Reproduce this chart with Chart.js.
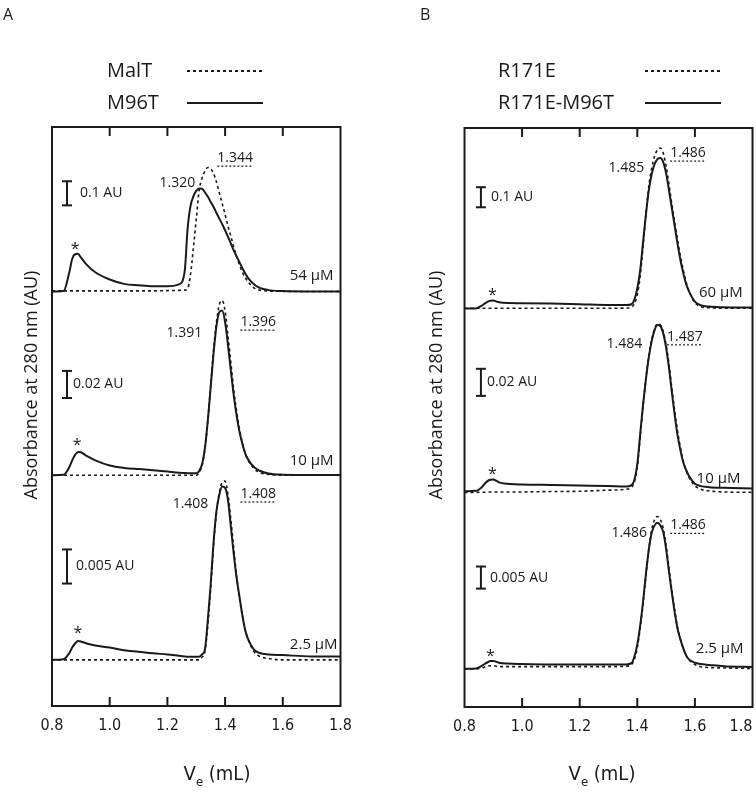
<!DOCTYPE html>
<html>
<head>
<meta charset="utf-8">
<script src="https://cdn.jsdelivr.net/npm/chart.js@4.4.1/dist/chart.umd.min.js"></script>
<style>
  html, body { margin: 0; padding: 0; background: #fff; }
  #wrap { position: relative; width: 756px; height: 793px; }
  .panel { position: absolute; top: 0; width: 378px; height: 793px; }
</style>
</head>
<body>
<div id="wrap">
  <div class="panel" style="left:0"><canvas id="chartA"></canvas></div>
  <div class="panel" style="left:378px"><canvas id="chartB"></canvas></div>
</div>
<script>
// elution volume (mL), panel A
const volumeA = [0.80, 0.84, 0.86, 0.87, 0.88, 0.89, 0.90, 0.92, 0.95,
  1.00, 1.05, 1.10, 1.15, 1.20, 1.24, 1.26, 1.27, 1.28, 1.29, 1.30,
  1.31, 1.32, 1.33, 1.34, 1.35, 1.36, 1.37, 1.38, 1.39, 1.40, 1.41, 1.42, 1.43, 1.44, 1.45, 1.46, 1.47, 1.48,
  1.50, 1.52, 1.55, 1.60, 1.70, 1.80];

// absorbance (AU), panel A
const malT54 = [0.003, 0.003, 0.003, 0.003, 0.003, 0.003, 0.003, 0.003, 0.003,
  0.003, 0.003, 0.003, 0.003, 0.004, 0.005, 0.006, 0.012, 0.07, 0.18, 0.30,
  0.42, 0.47, 0.50, 0.515, 0.51, 0.49, 0.455, 0.41, 0.365, 0.32, 0.272, 0.23, 0.186, 0.145, 0.11, 0.08, 0.058, 0.04,
  0.015, 0.006, 0.002, 0.001, 0, 0];
const m96t54 = [0, 0.002, 0.08, 0.135, 0.155, 0.157, 0.142, 0.112, 0.080,
  0.050, 0.032, 0.026, 0.022, 0.022, 0.030, 0.085, 0.26, 0.355, 0.395, 0.418,
  0.428, 0.427, 0.412, 0.395, 0.372, 0.351, 0.327, 0.303, 0.280, 0.254, 0.228, 0.199, 0.171, 0.146, 0.121, 0.097, 0.075, 0.056,
  0.030, 0.015, 0.006, 0.002, 0, 0];
const malT10 = [0, 0, 0, 0, 0, 0, 0, 0, 0,
  0, 0, 0, 0, 0, 0, 0, 0, 0, 0, 0,
  0.002, 0.007, 0.019, 0.04, 0.066, 0.092, 0.113, 0.126, 0.129, 0.121, 0.103, 0.083, 0.063, 0.047, 0.034, 0.024, 0.016, 0.011,
  0.005, 0.002, 0.0006, 0, 0, 0];
const m96t10 = [0, 0.0003, 0.006, 0.011, 0.015, 0.0172, 0.017, 0.0142, 0.011,
  0.0072, 0.0054, 0.0045, 0.0037, 0.0027, 0.0018, 0.0016, 0.0015, 0.0015, 0.0015, 0.0015,
  0.003, 0.008, 0.02, 0.04, 0.065, 0.09, 0.110, 0.1205, 0.1215, 0.113, 0.096, 0.077, 0.059, 0.044, 0.032, 0.023, 0.016, 0.0115,
  0.006, 0.0033, 0.0012, 0.0004, 0.0002, 0.0002];
const malT25 = [0, 0, 0, 0, 0, 0, 0, 0, 0,
  0, 0, 0, 0, 0, 0, 0, 0, 0, 0, 0,
  0, 0.0004, 0.0012, 0.005, 0.0105, 0.0168, 0.0215, 0.0245, 0.026, 0.0262, 0.0242, 0.0205, 0.0163, 0.0122, 0.009, 0.0064, 0.0044, 0.003,
  0.0012, 0.0005, 0.0002, 0, 0, 0];
const m96t25 = [0, 0.0001, 0.001, 0.0018, 0.0024, 0.00275, 0.0027, 0.0024, 0.0021,
  0.0018, 0.0014, 0.0012, 0.00095, 0.0008, 0.0006, 0.0005, 0.00045, 0.00045, 0.00045, 0.00045,
  0.00045, 0.0008, 0.0015, 0.0058, 0.011, 0.0172, 0.0218, 0.0242, 0.0254, 0.0252, 0.0234, 0.0195, 0.0155, 0.012, 0.0092, 0.0065, 0.0043, 0.003,
  0.0015, 0.001, 0.0008, 0.0007, 0.0005, 0.0005];

// elution volume (mL), panel B
const volumeB = [0.80, 0.84, 0.86, 0.87, 0.88, 0.89, 0.90, 0.91, 0.92, 0.95,
  1.00, 1.10, 1.20, 1.30, 1.36, 1.38,
  1.39, 1.40, 1.41, 1.42, 1.43, 1.44, 1.45, 1.46, 1.47, 1.48, 1.49, 1.50, 1.51, 1.52, 1.53, 1.54, 1.55, 1.56, 1.57, 1.58,
  1.60, 1.62, 1.65, 1.70, 1.80];

// absorbance (AU), panel B
const r171e60 = [0.002, 0.002, 0.002, 0.002, 0.002, 0.002, 0.002, 0.002, 0.002, 0.002,
  0.002, 0.002, 0.002, 0.002, 0.003, 0.008,
  0.025, 0.07, 0.16, 0.31, 0.47, 0.61, 0.70, 0.76, 0.79, 0.80, 0.775, 0.71, 0.62, 0.52, 0.43, 0.34, 0.26, 0.19, 0.13, 0.085,
  0.03, 0.01, 0.004, 0.002, 0.002];
const r171eM96t60 = [0, 0.001, 0.015, 0.025, 0.034, 0.039, 0.040, 0.036, 0.032, 0.028,
  0.027, 0.025, 0.022, 0.018, 0.018, 0.022,
  0.045, 0.10, 0.19, 0.33, 0.47, 0.59, 0.67, 0.72, 0.745, 0.75, 0.73, 0.675, 0.59, 0.50, 0.41, 0.32, 0.24, 0.175, 0.12, 0.085,
  0.035, 0.017, 0.01, 0.007, 0.005];
const r171e10 = [-0.0008, -0.0008, -0.0007, -0.0007, -0.0006, -0.0006, -0.0005, -0.0005, -0.0005, -0.0005,
  -0.0005, -0.0002, 0, 0.0008, 0.0015, 0.003,
  0.007, 0.018, 0.040, 0.063, 0.083, 0.100, 0.112, 0.120, 0.1235, 0.1228, 0.118, 0.108, 0.094, 0.076, 0.059, 0.044, 0.032, 0.022, 0.015, 0.01,
  0.004, 0.0015, 0.0002, -0.0005, -0.0008];
const r171eM96t10 = [0, 0.0003, 0.003, 0.0055, 0.0075, 0.0085, 0.0087, 0.0078, 0.0066, 0.0055,
  0.005, 0.0046, 0.0042, 0.0038, 0.0035, 0.0045,
  0.0085, 0.02, 0.042, 0.064, 0.083, 0.099, 0.111, 0.119, 0.1228, 0.122, 0.1165, 0.106, 0.091, 0.073, 0.056, 0.041, 0.03, 0.021, 0.0155, 0.011,
  0.0055, 0.0038, 0.003, 0.0025, 0.002];
const r171e25 = [0, 0, 0.0002, 0.0004, 0.0006, 0.0007, 0.0007, 0.0006, 0.0005, 0.0005,
  0.0005, 0.0005, 0.0005, 0.0005, 0.0006, 0.001,
  0.0022, 0.0048, 0.0092, 0.0148, 0.0212, 0.0272, 0.0315, 0.0338, 0.0345, 0.0338, 0.0318, 0.028, 0.0228, 0.0178, 0.0132, 0.0093, 0.0066, 0.0045, 0.003, 0.002,
  0.001, 0.0005, 0.0003, 0.0002, 0.0001];
const r171eM96t25 = [0, 0.0001, 0.0007, 0.0011, 0.0015, 0.0018, 0.0018, 0.0016, 0.0014, 0.0012,
  0.0011, 0.001, 0.001, 0.001, 0.001, 0.0013,
  0.0028, 0.0055, 0.0098, 0.0152, 0.0215, 0.027, 0.0308, 0.0325, 0.0331, 0.0325, 0.031, 0.0272, 0.022, 0.0172, 0.0128, 0.009, 0.0066, 0.0046, 0.003, 0.0021,
  0.0014, 0.0011, 0.0009, 0.0006, 0.0004];

const xTicks = [0.8, 1.0, 1.2, 1.4, 1.6, 1.8];

const TEXT = "'Open Sans', 'Noto Sans', sans-serif";
const NARROW = "'DejaVu Sans Condensed', 'Liberation Sans Narrow', 'DejaVu Sans', sans-serif";
const INK = '#1a1a1a';

// draws the frame, inward ticks, titles, legend, scale bars and peak labels
const decor = {
  id: 'decor',
  beforeDraw(chart, args, o) {
    // keep the last tick label inside the canvas
    if (!o.lastRight) return;
    const items = chart.scales.x.getLabelItems(chart.chartArea);
    if (items.length) items[items.length - 1].options.textAlign = 'right';
  },
  afterDraw(chart, args, o) {
    const { ctx, chartArea: a, scales } = chart;
    const x = scales.x;
    ctx.save();
    ctx.strokeStyle = INK;
    ctx.fillStyle = INK;
    const line = (x0, y0, x1, y1, w, dash) => {
      ctx.lineWidth = w;
      ctx.setLineDash(dash || []);
      ctx.beginPath(); ctx.moveTo(x0, y0); ctx.lineTo(x1, y1); ctx.stroke();
    };

    ctx.lineWidth = 2;
    ctx.setLineDash([]);
    ctx.strokeRect(a.left, a.top, a.right - a.left, a.bottom - a.top);
    x.ticks.forEach(t => {
      if (t.value <= x.min + 1e-6 || t.value >= x.max - 1e-6) return;
      const px = x.getPixelForValue(t.value);
      line(px, a.top, px, a.top + 9, 2);
      line(px, a.bottom - 9, px, a.bottom, 2);
    });

    // panel letter
    ctx.textBaseline = 'middle';
    ctx.textAlign = 'left';
    ctx.font = '16px ' + TEXT;
    ctx.fillText(o.letter.text, o.letter.x, o.letter.y);

    // legend
    ctx.font = '20px ' + TEXT;
    o.legend.forEach(l => {
      ctx.fillText(l.text, o.legendX, l.y);
      line(o.legendLine[0], l.y, o.legendLine[1], l.y, 2, l.dash);
    });

    // y title
    ctx.save();
    ctx.translate(o.yTitle.x, o.yTitle.y);
    ctx.rotate(-Math.PI / 2);
    ctx.textAlign = 'center';
    ctx.font = '18px ' + TEXT;
    ctx.fillText('Absorbance at 280 nm (AU)', 0, 0);
    ctx.restore();

    // x title with subscript
    ctx.textBaseline = 'alphabetic';
    ctx.textAlign = 'left';
    const big = 'condensed 20px ' + NARROW, small = 'condensed 13px ' + NARROW;
    ctx.font = big; const wV = ctx.measureText('V').width; const wR = ctx.measureText(' (mL)').width;
    ctx.font = small; const wE = ctx.measureText('e').width;
    let tx = o.xTitle.x - (wV + wE + wR) / 2;
    ctx.font = big; ctx.fillText('V', tx, o.xTitle.y); tx += wV;
    ctx.font = small; ctx.fillText('e', tx, o.xTitle.y + 6); tx += wE;
    ctx.font = big; ctx.fillText(' (mL)', tx, o.xTitle.y);

    // scale bars
    ctx.textBaseline = 'middle';
    o.bars.forEach(b => {
      const y = scales[b.axis];
      const px = x.getPixelForValue(b.v);
      const p0 = y.getPixelForValue(b.from), p1 = y.getPixelForValue(b.to);
      line(px, p0, px, p1, 2);
      line(px - 5, p0, px + 5, p0, 2);
      line(px - 5, p1, px + 5, p1, 2);
      ctx.font = '14px ' + TEXT;
      ctx.textAlign = 'left';
      ctx.fillText(b.text, px + 5 + b.gap, (p0 + p1) / 2);
    });

    // peak, marker and concentration labels
    o.labels.forEach(l => {
      const y = scales[l.axis];
      const px = x.getPixelForValue(l.v);
      const py = y.getPixelForValue(l.au);
      const size = l.size || 14;
      ctx.font = size + 'px ' + TEXT;
      ctx.textAlign = l.align;
      ctx.fillText(l.text, px, py + (l.text === '*' ? 0.3 * size : 0));
      if (l.underline) {
        const w = ctx.measureText(l.text).width;
        line(px, py + 8, px + w, py + 8, 1.2, [2, 2]);
      }
    });
    ctx.restore();
  }
};

function trace(volume, values, axis, dashed) {
  return {
    data: volume.map((v, i) => ({ x: v, y: values[i] })),
    yAxisID: axis,
    borderColor: INK,
    borderWidth: dashed ? 1.6 : 2,
    borderDash: dashed ? [3, 3] : [],
    pointRadius: 0,
    fill: false,
    clip: false,
    cubicInterpolationMode: 'monotone'
  };
}

function rowAxis(min, max) {
  return { type: 'linear', position: 'right', stack: 'rows', display: false, min: min, max: max };
}

function makePanel(id, datasets, ranges, padding, deco) {
  return new Chart(document.getElementById(id), {
    type: 'line',
    data: { datasets: datasets },
    options: {
      responsive: true,
      maintainAspectRatio: false,
      animation: false,
      events: [],
      layout: { padding: padding },
      plugins: { legend: { display: false }, tooltip: { enabled: false }, decor: deco },
      scales: {
        x: {
          type: 'linear', min: 0.8, max: 1.8,
          grid: { display: false, drawTicks: false },
          border: { display: false },
          afterBuildTicks: s => { s.ticks = xTicks.map(v => ({ value: v })); },
          afterFit: s => { s.paddingLeft = 0; s.paddingRight = 0; },
          ticks: { padding: 10, color: INK, font: { family: NARROW, size: 16, weight: 'condensed' }, callback: v => v.toFixed(1) }
        },
        y1: rowAxis(ranges[0][0], ranges[0][1]),
        y2: rowAxis(ranges[1][0], ranges[1][1]),
        y3: rowAxis(ranges[2][0], ranges[2][1])
      }
    },
    plugins: [decor]
  });
}

makePanel('chartA', [
  trace(volumeA, malT54, 'y1', true), trace(volumeA, m96t54, 'y1', false),
  trace(volumeA, malT10, 'y2', true), trace(volumeA, m96t10, 'y2', false),
  trace(volumeA, malT25, 'y3', true), trace(volumeA, m96t25, 'y3', false)
], [[-0.11806, 0.68333], [-0.0279, 0.11457], [-0.006764, 0.02152]],
{ left: 52, right: 37.5, top: 127, bottom: 47.8 },
{
  letter: { text: 'A', x: 3, y: 15 },
  legendX: 107, legendLine: [187, 263],
  legend: [{ text: 'MalT', y: 71, dash: [3, 3] }, { text: 'M96T', y: 103 }],
  yTitle: { x: 32, y: 385 },
  xTitle: { x: 217, y: 780 },
  bars: [
    { axis: 'y1', v: 0.852, from: 0.358, to: 0.458, text: '0.1 AU', gap: 8 },
    { axis: 'y2', v: 0.852, from: 0.057, to: 0.077, text: '0.02 AU', gap: 1 },
    { axis: 'y3', v: 0.852, from: 0.01118, to: 0.01618, text: '0.005 AU', gap: 4 }
  ],
  labels: [
    { axis: 'y1', v: 1.2965, au: 0.45, text: '1.320', align: 'right' },
    { axis: 'y1', v: 1.373, au: 0.554, text: '1.344', align: 'left', underline: true },
    { axis: 'y1', v: 0.88, au: 0.196, text: '*', align: 'center', size: 16 },
    { axis: 'y1', v: 1.776, au: 0.067, text: '54 µM', align: 'right', size: 15 },
    { axis: 'y2', v: 1.321, au: 0.105, text: '1.391', align: 'right' },
    { axis: 'y2', v: 1.453, au: 0.113, text: '1.396', align: 'left', underline: true },
    { axis: 'y2', v: 0.887, au: 0.0252, text: '*', align: 'center', size: 16 },
    { axis: 'y2', v: 1.776, au: 0.0104, text: '10 µM', align: 'right', size: 15 },
    { axis: 'y3', v: 1.342, au: 0.0228, text: '1.408', align: 'right' },
    { axis: 'y3', v: 1.453, au: 0.0243, text: '1.408', align: 'left', underline: true },
    { axis: 'y3', v: 0.89, au: 0.00456, text: '*', align: 'center', size: 16 },
    { axis: 'y3', v: 1.79, au: 0.0022, text: '2.5 µM', align: 'right', size: 15 }
  ]
});

makePanel('chartB', [
  trace(volumeB, r171e60, 'y1', true), trace(volumeB, r171eM96t60, 'y1', false),
  trace(volumeB, r171e10, 'y2', true), trace(volumeB, r171eM96t10, 'y2', false),
  trace(volumeB, r171e25, 'y3', true), trace(volumeB, r171eM96t25, 'y3', false)
], [[-0.06167, 0.9], [-0.01679, 0.12568], [-0.008636, 0.035076]],
{ left: 86.5, right: 3.5, top: 128, bottom: 46.8 },
{
  lastRight: true,
  letter: { text: 'B', x: 42, y: 15 },
  legendX: 120, legendLine: [267, 343],
  legend: [{ text: 'R171E', y: 71, dash: [3, 3] }, { text: 'R171E-M96T', y: 103 }],
  yTitle: { x: 59, y: 385 },
  xTitle: { x: 224, y: 780 },
  bars: [
    { axis: 'y1', v: 0.857, from: 0.505, to: 0.605, text: '0.1 AU', gap: 5 },
    { axis: 'y2', v: 0.857, from: 0.0704, to: 0.0904, text: '0.02 AU', gap: 1 },
    { axis: 'y3', v: 0.857, from: 0.01818, to: 0.02318, text: '0.005 AU', gap: 4 }
  ],
  labels: [
    { axis: 'y1', v: 1.424, au: 0.70, text: '1.485', align: 'right' },
    { axis: 'y1', v: 1.514, au: 0.775, text: '1.486', align: 'left', underline: true },
    { axis: 'y1', v: 0.897, au: 0.09, text: '*', align: 'center', size: 16 },
    { axis: 'y1', v: 1.766, au: 0.08, text: '60 µM', align: 'right', size: 15 },
    { axis: 'y2', v: 1.417, au: 0.1089, text: '1.484', align: 'right' },
    { axis: 'y2', v: 1.503, au: 0.114, text: '1.487', align: 'left', underline: true },
    { axis: 'y2', v: 0.897, au: 0.0163, text: '*', align: 'center', size: 16 },
    { axis: 'y2', v: 1.758, au: 0.0089, text: '10 µM', align: 'right', size: 15 },
    { axis: 'y3', v: 1.434, au: 0.0307, text: '1.486', align: 'right' },
    { axis: 'y3', v: 1.514, au: 0.0325, text: '1.486', align: 'left', underline: true },
    { axis: 'y3', v: 0.890, au: 0.00386, text: '*', align: 'center', size: 16 },
    { axis: 'y3', v: 1.769, au: 0.00455, text: '2.5 µM', align: 'right', size: 15 }
  ]
});
</script>
</body>
</html>
